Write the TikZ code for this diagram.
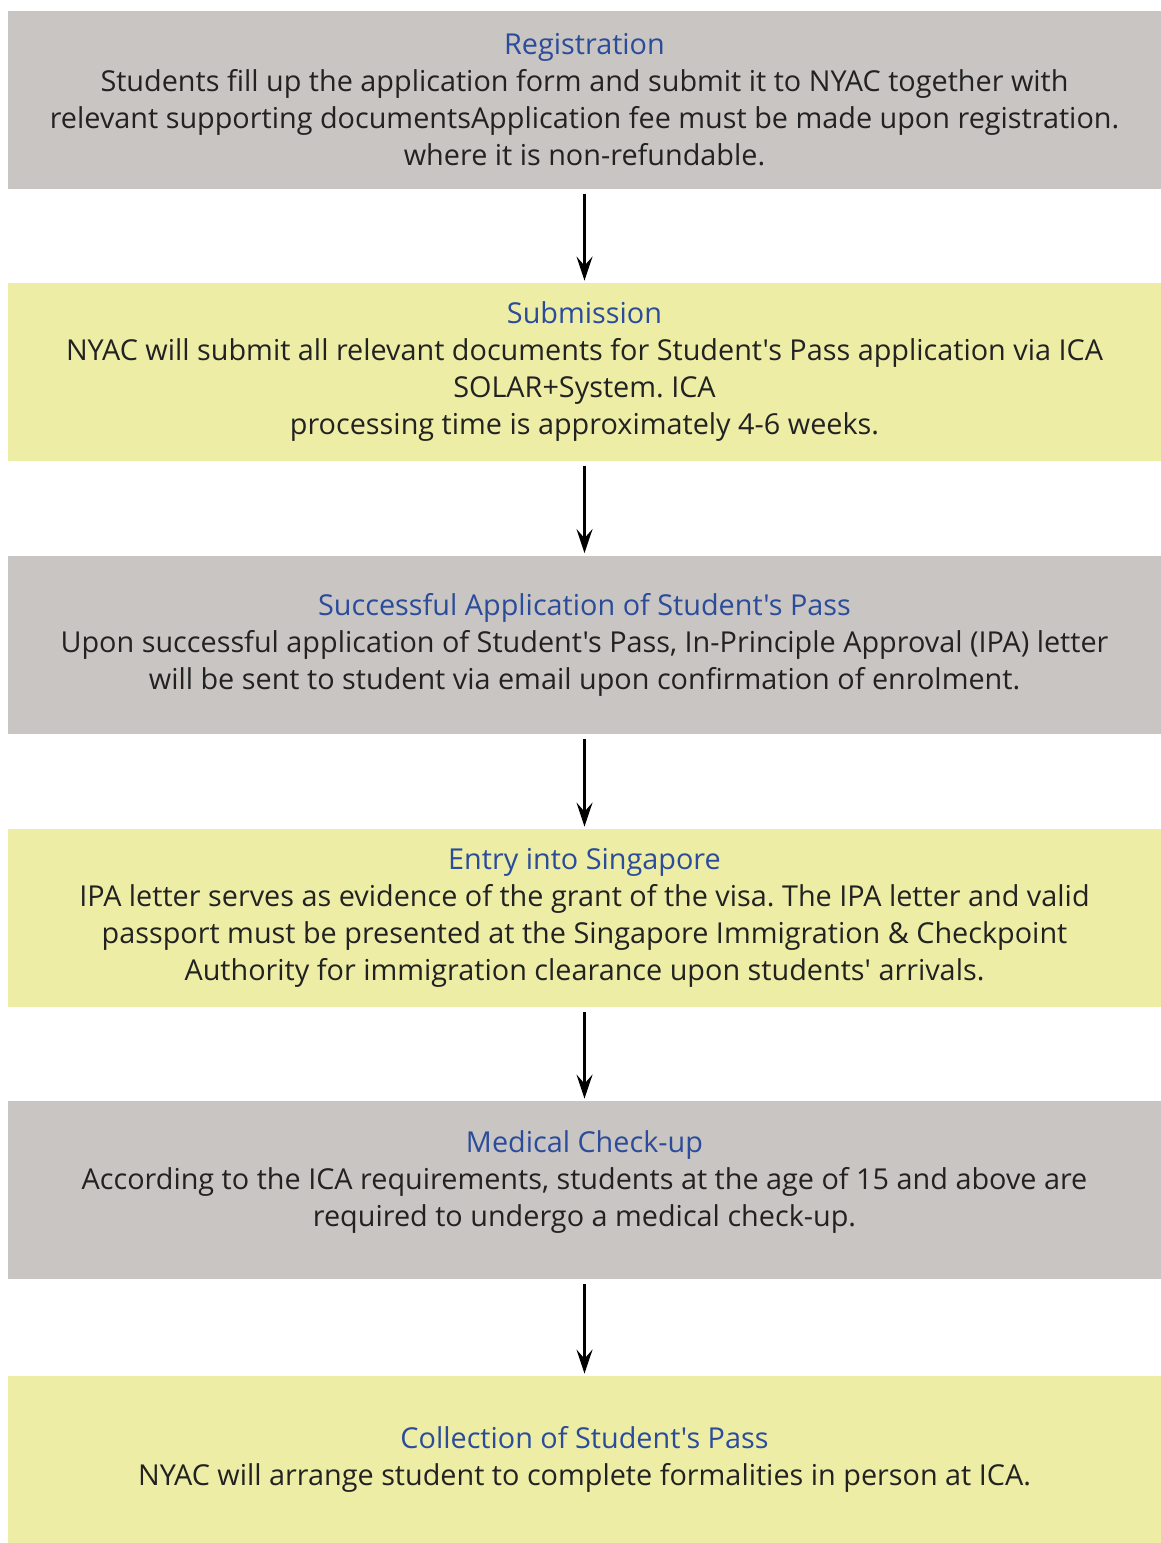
\documentclass[tikz,border=0pt]{standalone}
\usepackage{fontspec}
\setmainfont{Open Sans}[Ligatures=TeXOff]
\usetikzlibrary{arrows.meta}
\definecolor{boxgray}{HTML}{C9C5C2}
\definecolor{boxyellow}{HTML}{EDEDA6}
\definecolor{titleblue}{HTML}{2B4C9B}
\definecolor{txt}{HTML}{222222}
\frenchspacing
\begin{document}
\begin{tikzpicture}[x=0.5pt,y=-0.5pt,
  stepbox/.style={minimum width=576.5pt, minimum height=89pt, inner sep=0pt, align=center,
    text=txt, font=\fontsize{14.4pt}{18.5pt}\selectfont\frenchspacing},
  graybox/.style={stepbox, fill=boxgray},
  yellowbox/.style={stepbox, fill=boxyellow},
  arr/.style={line width=1.5pt, draw=black, -{Stealth[length=12pt,width=8pt,inset=4.5pt]},
    shorten <=2.5pt, shorten >=1pt}]
\useasboundingbox (0,0) rectangle (1161,1543);
\fill[white] (0,0) rectangle (1161,1543);
\node[graybox] (b1) at (584.5,100) {{\color{titleblue}Registration}\\
Students fill up the application form and submit it to NYAC together with\\
relevant supporting documentsApplication fee must be made upon registration.\\
where it is non-refundable.};
\node[yellowbox] (b2) at (584.5,372) {{\color{titleblue}Submission}\\
NYAC will submit all relevant documents for Student's Pass application via ICA\\
SOLAR+System. ICA\\
processing time is approximately 4-6 weeks.};
\node[graybox] (b3) at (584.5,644.5) {{\color{titleblue}Successful Application of Student's Pass}\\
Upon successful application of Student's Pass, In-Principle Approval (IPA) letter\\
will be sent to student via email upon confirmation of enrolment.};
\node[yellowbox] (b4) at (584.5,918) {{\color{titleblue}Entry into Singapore}\\
IPA letter serves as evidence of the grant of the visa. The IPA letter and valid\\
passport must be presented at the Singapore Immigration \& Checkpoint\\
Authority for immigration clearance upon students' arrivals.};
\node[graybox] (b5) at (584.5,1190) {};
\node[align=center, text=txt, font=\fontsize{14.4pt}{18.5pt}\selectfont\frenchspacing, inner sep=0pt] (t5) at (584.5,1182.5) {{\color{titleblue}Medical Check-up}\\
According to the ICA requirements, students at the age of 15 and above are\\
required to undergo a medical check-up.};
\node[yellowbox, minimum height=83.5pt] (b6) at (584.5,1459.5) {{\color{titleblue}Collection of Student's Pass}\\
NYAC will arrange student to complete formalities in person at ICA.};
\draw[arr] (b1) -- (b2);
\draw[arr] (b2) -- (b3);
\draw[arr] (b3) -- (b4);
\draw[arr] (b4) -- (b5);
\draw[arr] (b5) -- (b6);
\end{tikzpicture}
\end{document}
